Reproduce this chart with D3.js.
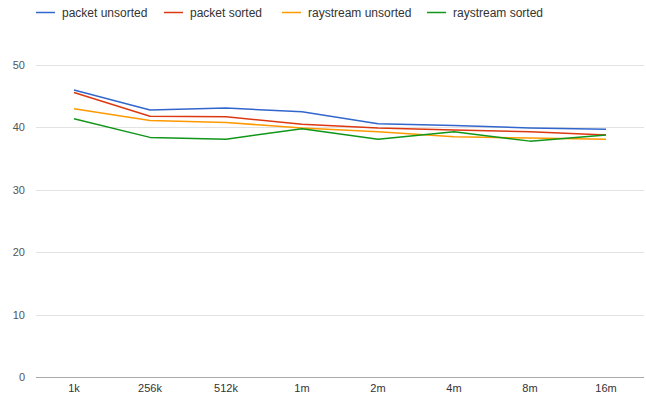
<!DOCTYPE html>
<html>
<head>
<meta charset="utf-8">
<script src="https://cdn.jsdelivr.net/npm/d3@7"></script>
<style>
  html, body { margin: 0; padding: 0; background: #fff; }
  svg { display: block; font-family: "Liberation Sans", Arial, sans-serif; }
</style>
</head>
<body>
<svg id="chart" width="646" height="396"></svg>
<script>
// Input sizes along the x axis
const categories = ["1k", "256k", "512k", "1m", "2m", "4m", "8m", "16m"];

// Measured values per method
const packetUnsorted    = [46.0, 42.8, 43.1, 42.5, 40.6, 40.3, 39.9, 39.7];
const packetSorted      = [45.6, 41.8, 41.7, 40.5, 39.9, 39.6, 39.3, 38.8];
const raystreamUnsorted = [43.0, 41.1, 40.8, 39.9, 39.3, 38.5, 38.3, 38.1];
const raystreamSorted   = [41.4, 38.4, 38.1, 39.8, 38.1, 39.3, 37.8, 38.8];

const seriesNames = ["packet unsorted", "packet sorted", "raystream unsorted", "raystream sorted"];
const seriesColors = ["#3366cc", "#dc3912", "#ff9900", "#109618"];
const yTicks = [0, 10, 20, 30, 40, 50];

const series = [packetUnsorted, packetSorted, raystreamUnsorted, raystreamSorted]
  .map((values, i) => ({ name: seriesNames[i], color: seriesColors[i], values }));

const svg = d3.select("#chart");
const margin = { left: 36, right: 2, top: 65, bottom: 19 };
const W = 646, H = 396;

const x = d3.scaleBand().domain(categories).range([margin.left, W - margin.right]);
const y = d3.scaleLinear().domain([0, 50]).range([H - margin.bottom, margin.top]);

// Horizontal gridlines
svg.append("g")
  .selectAll("line")
  .data(yTicks.filter(t => t !== 0))
  .join("line")
  .attr("x1", margin.left).attr("x2", W - margin.right)
  .attr("y1", d => Math.round(y(d)) + 0.5).attr("y2", d => Math.round(y(d)) + 0.5)
  .attr("stroke", "#e3e3e3").attr("stroke-width", 1);

// Baseline
svg.append("line")
  .attr("x1", margin.left).attr("x2", W - margin.right)
  .attr("y1", Math.round(y(0)) + 0.5).attr("y2", Math.round(y(0)) + 0.5)
  .attr("stroke", "#aaaaaa").attr("stroke-width", 1.2);

// Y axis labels
const yAxis = d3.axisLeft(y).tickValues(yTicks).tickSize(0).tickPadding(11);
const gy = svg.append("g").attr("transform", `translate(${margin.left},0)`).call(yAxis);
gy.select(".domain").remove();
gy.selectAll("text").attr("fill", "#555").style("font-size", "11px")
  .style("font-family", "'Liberation Sans', Arial, sans-serif");

// X axis labels
const xAxis = d3.axisBottom(x).tickSize(0).tickPadding(7);
const gx = svg.append("g").attr("transform", `translate(0,${Math.round(y(0))})`).call(xAxis);
gx.select(".domain").remove();
gx.selectAll("text").attr("fill", "#333").style("font-size", "11px")
  .style("font-family", "'Liberation Sans', Arial, sans-serif");

// Series lines
const line = d3.line()
  .x((d, i) => x(categories[i]) + x.bandwidth() / 2)
  .y(d => y(d));

svg.append("g")
  .selectAll("path")
  .data(series)
  .join("path")
  .attr("d", d => line(d.values))
  .attr("fill", "none")
  .attr("stroke", d => d.color)
  .attr("stroke-width", 1.5)
  .attr("stroke-linejoin", "round");

// Legend
const legendX = [36, 164, 282, 427];
const legend = svg.append("g")
  .selectAll("g")
  .data(series)
  .join("g")
  .attr("transform", (d, i) => `translate(${legendX[i]},12.5)`);
legend.append("line")
  .attr("x1", 0).attr("x2", 19).attr("y1", 0).attr("y2", 0)
  .attr("stroke", d => d.color).attr("stroke-width", 1.5);
legend.append("text")
  .attr("x", 26).attr("y", 0).attr("dy", "0.35em")
  .attr("fill", "#333").style("font-size", "12px")
  .text(d => d.name);
</script>
</body>
</html>
